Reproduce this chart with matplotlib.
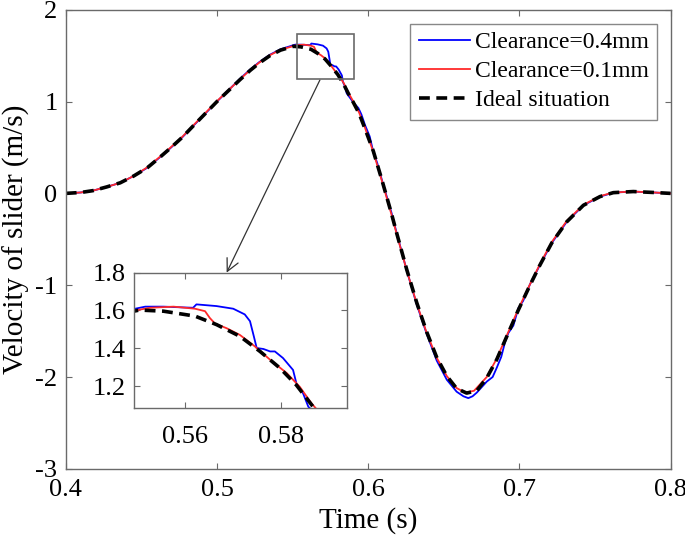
import matplotlib.pyplot as plt
from matplotlib.patches import Rectangle

plt.rcParams['font.family'] = ['Liberation Serif', 'DejaVu Serif']
plt.rcParams['axes.unicode_minus'] = False

# -------------------------
# Data
# -------------------------
t_ideal = [0.400, 0.410, 0.418, 0.427, 0.436, 0.445, 0.454, 0.462, 0.469, 0.477,
           0.484, 0.492, 0.500, 0.508, 0.515, 0.522, 0.528, 0.535, 0.542, 0.5505,
           0.5555, 0.5621, 0.5666, 0.5715, 0.5757, 0.5799, 0.5833, 0.5868, 0.5902, 0.594,
           0.598, 0.6034, 0.609, 0.6154, 0.6188, 0.6255, 0.6321, 0.6387, 0.6453, 0.652,
           0.6585, 0.6651, 0.6718, 0.6784, 0.685, 0.6916, 0.6993, 0.707, 0.7136, 0.7214,
           0.7313, 0.7423, 0.7533, 0.7621, 0.7753, 0.7886, 0.800]
v_ideal = [0.0, 0.01, 0.03, 0.07, 0.115, 0.19, 0.28, 0.39, 0.49, 0.61,
           0.73, 0.865, 1.0, 1.125, 1.235, 1.34, 1.42, 1.50, 1.56, 1.602,
           1.596, 1.57, 1.525, 1.463, 1.383, 1.294, 1.205, 1.09, 0.99, 0.87,
           0.70, 0.46, 0.15, -0.22, -0.43, -0.83, -1.19, -1.51, -1.785, -1.99,
           -2.125, -2.175, -2.15, -2.01, -1.81, -1.56, -1.27, -1.0, -0.78, -0.54,
           -0.31, -0.13, -0.035, 0.008, 0.02, 0.01, 0.0]

t_01 = [0.400, 0.410, 0.418, 0.427, 0.436, 0.445, 0.454, 0.462, 0.469, 0.477,
        0.484, 0.492, 0.500, 0.508, 0.515, 0.522, 0.528, 0.535, 0.542, 0.5496,
        0.5527, 0.5576, 0.5621, 0.5642, 0.5652, 0.5663, 0.5687, 0.5715, 0.5746, 0.5778,
        0.5813, 0.584, 0.5865, 0.5902, 0.594, 0.598, 0.6034, 0.609, 0.6154, 0.6188,
        0.6255, 0.6321, 0.6387, 0.6453, 0.652, 0.6585, 0.664, 0.670, 0.6784, 0.685,
        0.6916, 0.6993, 0.707, 0.7136, 0.7214, 0.7313, 0.7423, 0.7533, 0.7621, 0.7753,
        0.7886, 0.800]
v_01 = [0.0, 0.01, 0.03, 0.07, 0.115, 0.19, 0.285, 0.395, 0.495, 0.615,
        0.735, 0.87, 1.005, 1.13, 1.24, 1.345, 1.425, 1.505, 1.565, 1.60,
        1.614, 1.62, 1.609, 1.596, 1.56, 1.53, 1.506, 1.47, 1.41, 1.339,
        1.268, 1.196, 1.107, 1.0, 0.88, 0.71, 0.45, 0.14, -0.23, -0.44,
        -0.84, -1.20, -1.52, -1.79, -1.99, -2.12, -2.17, -2.15, -2.00, -1.80,
        -1.55, -1.26, -0.99, -0.77, -0.53, -0.30, -0.125, -0.03, 0.01, 0.02,
        0.01, 0.0]

t_04 = [0.400, 0.410, 0.418, 0.427, 0.436, 0.445, 0.454, 0.462, 0.469, 0.477,
        0.484, 0.492, 0.500, 0.508, 0.515, 0.522, 0.528, 0.535, 0.542, 0.5496,
        0.5517, 0.5555, 0.5617, 0.5624, 0.5666, 0.5701, 0.5725, 0.5736, 0.5744, 0.575,
        0.5764, 0.5778, 0.5788, 0.5805, 0.5826, 0.5833, 0.5847, 0.5858, 0.5902, 0.5935,
        0.5955, 0.598, 0.601, 0.6034, 0.606, 0.609, 0.6154, 0.6188, 0.6255, 0.6321,
        0.6387, 0.6453, 0.652, 0.6585, 0.663, 0.6662, 0.669, 0.6718, 0.6784, 0.6823,
        0.685, 0.688, 0.6905, 0.6927, 0.696, 0.6993, 0.7025, 0.707, 0.7136, 0.7214,
        0.7313, 0.7423, 0.7533, 0.7621, 0.7753, 0.7886, 0.800]
v_04 = [0.0, 0.01, 0.03, 0.07, 0.115, 0.19, 0.28, 0.39, 0.49, 0.61,
        0.73, 0.865, 1.0, 1.13, 1.245, 1.35, 1.43, 1.51, 1.57, 1.609,
        1.62, 1.62, 1.614, 1.632, 1.623, 1.609, 1.579, 1.543, 1.463, 1.401,
        1.396, 1.383, 1.383, 1.348, 1.285, 1.214, 1.161, 1.09, 0.99, 0.93,
        0.86, 0.74, 0.62, 0.45, 0.33, 0.15, -0.21, -0.43, -0.84, -1.21,
        -1.53, -1.82, -2.03, -2.16, -2.21, -2.23, -2.21, -2.17, -2.05, -2.00,
        -1.90, -1.78, -1.62, -1.52, -1.44, -1.25, -1.17, -0.99, -0.78, -0.54,
        -0.31, -0.13, -0.035, 0.008, 0.02, 0.01, 0.0]

labels = ["Clearance=0.4mm", "Clearance=0.1mm", "Ideal situation"]
main_xticks = [0.4, 0.5, 0.6, 0.7, 0.8]
main_yticks = [-3, -2, -1, 0, 1, 2]
inset_xticks = [0.56, 0.58]
inset_yticks = [1.2, 1.4, 1.6, 1.8]

edge = "#6a6a6a"


def draw_curves(ax):
    ax.plot(t_04, v_04, color="#0000ff", lw=1.3, label=labels[0])
    ax.plot(t_01, v_01, color="#ff2a2a", lw=1.3, label=labels[1])
    ax.plot(t_ideal, v_ideal, color="black", lw=2.6, dashes=(3.0, 1.8), label=labels[2])


def style(ax, fs):
    for s in ax.spines.values():
        s.set_color(edge)
        s.set_linewidth(1.0)
    ax.tick_params(direction="in", top=True, right=True, length=4, width=0.8,
                   color=edge, labelsize=fs, pad=6)


# -------------------------
# Main plot
# -------------------------
fig = plt.figure(figsize=(6.85, 5.42), dpi=100)
ax = fig.add_axes([0.096, 0.135, 0.883, 0.847])
draw_curves(ax)
ax.set_xlim(0.4, 0.8)
ax.set_ylim(-3, 2)
ax.set_xticks(main_xticks)
ax.set_xticklabels(["0.4", "0.5", "0.6", "0.7", "0.8"])
ax.set_yticks(main_yticks)
style(ax, 19)
ax.tick_params(axis="x", pad=7)
ax.set_xlabel("Time (s)", fontsize=21, labelpad=5)
ax.set_ylabel("Velocity of slider (m/s)", fontsize=21, labelpad=4)

leg = ax.legend(loc="upper right", bbox_to_anchor=(0.978, 0.970), fontsize=17,
                handlelength=2.2, handletextpad=0.2, borderpad=0.35,
                labelspacing=0.32, borderaxespad=0, fancybox=False)
leg.get_frame().set_edgecolor(edge)
leg.get_frame().set_linewidth(1.0)

# zoom box and arrow
ax.add_patch(Rectangle((0.5527, 1.244), 0.0381, 0.49, fill=False,
                       edgecolor=edge, lw=1.2, zorder=5))
ax.annotate("", xy=(0.5064, -0.863), xytext=(0.5681, 1.236),
            arrowprops=dict(arrowstyle="->", color="#333333", lw=0.9,
                            mutation_scale=22, shrinkA=0, shrinkB=0))

# -------------------------
# Inset
# -------------------------
axin = fig.add_axes([0.196, 0.247, 0.310, 0.250])
draw_curves(axin)
axin.set_xlim(0.5494, 0.5938)
axin.set_ylim(1.083, 1.8)
axin.set_xticks(inset_xticks)
axin.set_xticklabels(["0.56", "0.58"])
axin.set_yticks(inset_yticks)
axin.set_yticklabels(["1.2", "1.4", "1.6", "1.8"])
style(axin, 19)
axin.tick_params(axis="x", pad=13)

plt.savefig("out.png", dpi=100)
